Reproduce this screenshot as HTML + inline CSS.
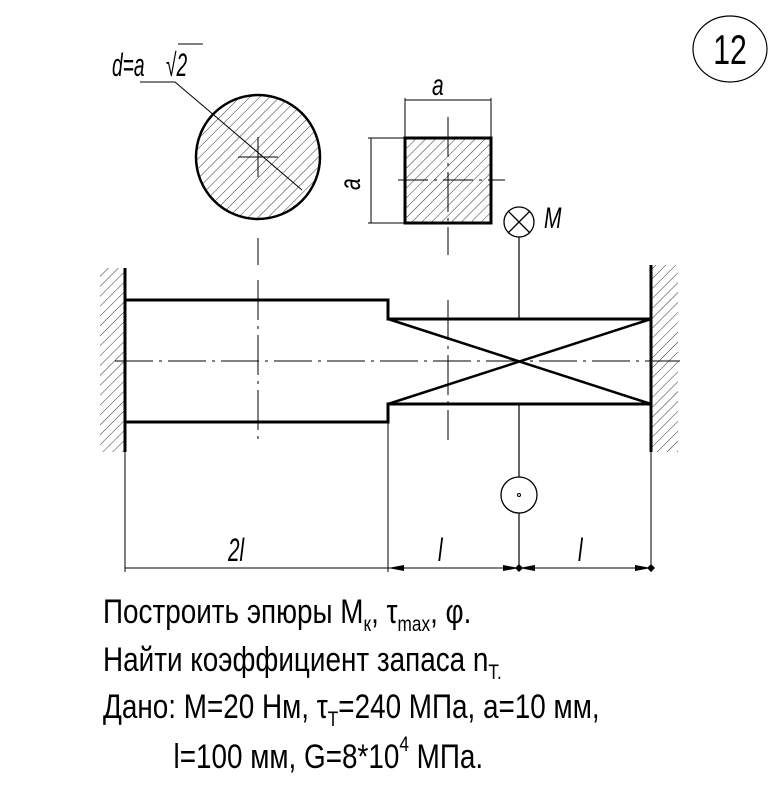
<!DOCTYPE html>
<html><head><meta charset="utf-8"><style>
html,body{margin:0;padding:0;background:#fff;}
svg{display:block;}
text{font-family:"Liberation Sans","DejaVu Sans",sans-serif;fill:#000;}
</style></head><body>
<svg width="777" height="795" viewBox="0 0 777 795" xmlns="http://www.w3.org/2000/svg">
<defs>
<pattern id="h" patternUnits="userSpaceOnUse" width="7" height="7" patternTransform="rotate(45)">
<line x1="0" y1="0" x2="0" y2="7" stroke="#000" stroke-width="0.8"/>
</pattern>
</defs>
<!-- 12 -->
<ellipse cx="730" cy="49" rx="37" ry="33" fill="none" stroke="#000" stroke-width="1.2"/>
<text x="730" y="64" font-size="42" text-anchor="middle" transform="translate(730 0) scale(0.72 1) translate(-730 0)">12</text>

<!-- circle section -->
<circle cx="258" cy="157" r="62" fill="url(#h)" stroke="#000" stroke-width="2.5"/>
<line x1="238" y1="157" x2="278" y2="157" stroke="#000" stroke-width="1"/>
<line x1="258" y1="137" x2="258" y2="177" stroke="#000" stroke-width="1"/>
<polyline points="140,82 175,82 302,190" fill="none" stroke="#000" stroke-width="1"/>
<text x="112" y="76" font-size="32" font-style="italic" transform="translate(112 0) scale(0.6 1) translate(-112 0)">d=a</text>
<text x="166" y="76" font-size="32" font-style="italic" transform="translate(166 0) scale(0.6 1) translate(-166 0)">√2</text>
<line x1="178" y1="44" x2="203" y2="44" stroke="#000" stroke-width="1"/>
<line x1="258" y1="238" x2="258" y2="265" stroke="#000" stroke-width="1"/>

<!-- square section -->
<rect x="405" y="138" width="86" height="85" fill="url(#h)" stroke="#000" stroke-width="3"/>
<line x1="398" y1="180" x2="505" y2="180" stroke="#000" stroke-width="1" stroke-dasharray="30,6,3,6"/>
<line x1="448" y1="117" x2="448" y2="255" stroke="#000" stroke-width="1" stroke-dasharray="40,6,3,6"/>
<line x1="405" y1="100" x2="491" y2="100" stroke="#000" stroke-width="1"/>
<line x1="405" y1="98" x2="405" y2="138" stroke="#000" stroke-width="1"/>
<line x1="491" y1="98" x2="491" y2="138" stroke="#000" stroke-width="1"/>
<text x="432" y="95" font-size="30" font-style="italic" transform="translate(432 0) scale(0.7 1) translate(-432 0)">a</text>
<line x1="371" y1="138" x2="371" y2="223" stroke="#000" stroke-width="1"/>
<line x1="368" y1="138" x2="405" y2="138" stroke="#000" stroke-width="1"/>
<line x1="368" y1="223" x2="405" y2="223" stroke="#000" stroke-width="1"/>
<text x="0" y="0" font-size="30" font-style="italic" transform="translate(360 190) rotate(-90) scale(0.7 1)">a</text>

<!-- M -->
<circle cx="519" cy="222" r="15" fill="none" stroke="#000" stroke-width="1.3"/>
<line x1="508" y1="211" x2="530" y2="233" stroke="#000" stroke-width="1.3"/>
<line x1="530" y1="211" x2="508" y2="233" stroke="#000" stroke-width="1.3"/>
<line x1="519" y1="237" x2="519" y2="319" stroke="#000" stroke-width="1.2"/>
<text x="544" y="228" font-size="30" font-style="italic" transform="translate(544 0) scale(0.7 1) translate(-544 0)">M</text>

<!-- walls -->
<rect x="100" y="268" width="25" height="184" fill="url(#h)"/>
<line x1="125" y1="268" x2="125" y2="452" stroke="#000" stroke-width="3"/>
<rect x="651" y="265" width="27" height="187" fill="url(#h)"/>
<line x1="651" y1="265" x2="651" y2="452" stroke="#000" stroke-width="3"/>

<!-- shaft -->
<polyline points="125,300 388,300 388,319 651,319" fill="none" stroke="#000" stroke-width="3"/>
<polyline points="125,422 388,422 388,404 651,404" fill="none" stroke="#000" stroke-width="3"/>
<line x1="388" y1="319" x2="651" y2="404" stroke="#000" stroke-width="2.5"/>
<line x1="388" y1="404" x2="651" y2="319" stroke="#000" stroke-width="2.5"/>
<line x1="115" y1="361" x2="680" y2="361" stroke="#000" stroke-width="1" stroke-dasharray="38,6,3,6"/>
<line x1="258" y1="280" x2="258" y2="440" stroke="#000" stroke-width="1" stroke-dasharray="40,6,3,6"/>
<line x1="448" y1="300" x2="448" y2="440" stroke="#000" stroke-width="1" stroke-dasharray="40,6,3,6"/>

<!-- lower circle -->
<line x1="519" y1="404" x2="519" y2="477" stroke="#000" stroke-width="1.2"/>
<circle cx="519" cy="495" r="18" fill="none" stroke="#000" stroke-width="1.3"/>
<circle cx="519" cy="495" r="1.5" fill="none" stroke="#000" stroke-width="1"/>
<line x1="519" y1="513" x2="519" y2="570" stroke="#000" stroke-width="1.2"/>

<!-- dimensions -->
<line x1="125" y1="452" x2="125" y2="572" stroke="#000" stroke-width="1"/>
<line x1="388" y1="422" x2="388" y2="572" stroke="#000" stroke-width="1"/>
<line x1="651" y1="452" x2="651" y2="572" stroke="#000" stroke-width="1"/>
<line x1="125" y1="568" x2="651" y2="568" stroke="#000" stroke-width="1"/>
<polygon points="388,568 404,565 404,571" fill="#000"/>
<polygon points="519,568 503,565 503,571" fill="#000"/>
<polygon points="519,568 535,565 535,571" fill="#000"/>
<polygon points="651,568 635,565 635,571" fill="#000"/>
<polygon points="519,564 523,568 519,572 515,568" fill="#000"/>
<polygon points="651,564 655,568 651,572 647,568" fill="#000"/>
<text x="228" y="561" font-size="32" font-style="italic" transform="translate(228 0) scale(0.65 1) translate(-228 0)">2l</text>
<text x="438" y="561" font-size="32" font-style="italic" transform="translate(438 0) scale(0.65 1) translate(-438 0)">l</text>
<text x="578" y="561" font-size="32" font-style="italic" transform="translate(578 0) scale(0.65 1) translate(-578 0)">l</text>

<!-- text -->
<g transform="translate(103 0) scale(0.82 1)">
<text x="0" y="623" font-size="34">Построить эпюры M<tspan font-size="21" dy="8">к</tspan><tspan dy="-8">,  τ</tspan><tspan font-size="21" dy="8">max</tspan><tspan dy="-8">,  φ.</tspan></text>
<text x="0" y="671" font-size="34">Найти коэффициент запаса n<tspan font-size="21" dy="8">T.</tspan></text>
<text x="0" y="718" font-size="34">Дано: M=20 Нм,  τ<tspan font-size="21" dy="8">T</tspan><tspan dy="-8">=240 МПа,  a=10 мм,</tspan></text>
<text x="86" y="768" font-size="34">l=100 мм,  G=8*10<tspan font-size="21" dy="-17">4</tspan><tspan dy="17">  МПа.</tspan></text>
</g>
</svg>
</body></html>
